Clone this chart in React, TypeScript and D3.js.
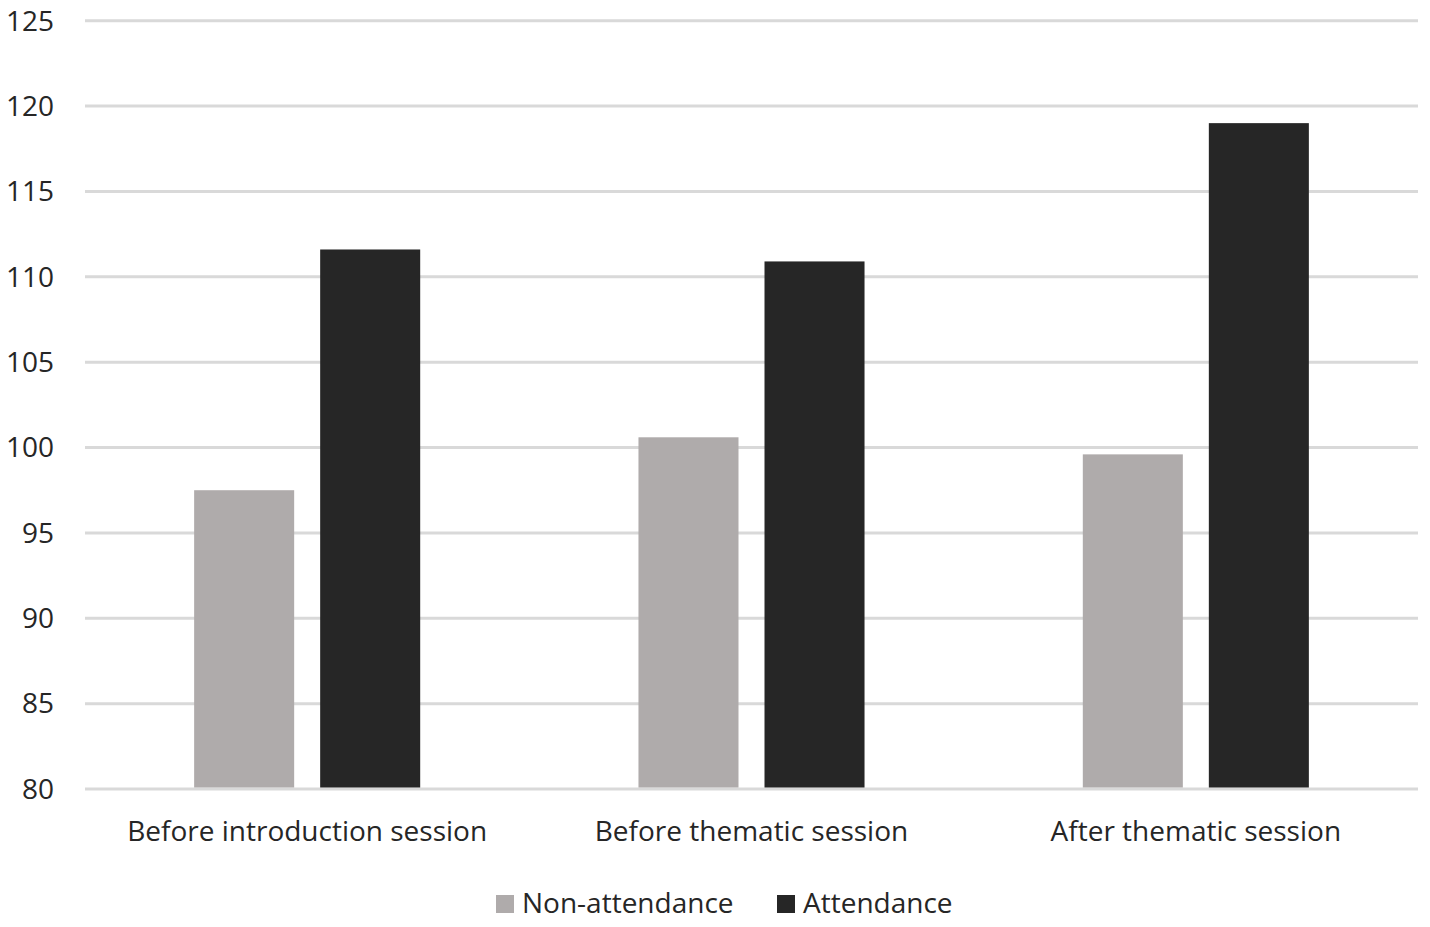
import { useEffect, useRef } from "react";
import * as d3 from "d3";

const categories = [
  "Before introduction session",
  "Before thematic session",
  "After thematic session",
];
const seriesNames = ["Non-attendance", "Attendance"];
const nonAttendance = [97.5, 100.6, 99.6];
const attendance = [111.6, 110.9, 119.0];
const yTicks = [80, 85, 90, 95, 100, 105, 110, 115, 120, 125];

const colors = ["#AFABAB", "#262626"];
const FONT = "'Open Sans', 'Noto Sans', sans-serif";
const FONT_SIZE = "28px";

function renderChart(svgEl: SVGSVGElement) {
  const svg = d3.select(svgEl);
  svg.selectAll("*").remove();

  const width = 1430;
  const height = 927;
  const margin = { top: 20.7, right: 12, bottom: 138, left: 85 };
  const chartWidth = width - margin.left - margin.right;
  const chartHeight = height - margin.top - margin.bottom;

  const g = svg
    .append("g")
    .attr("transform", `translate(${margin.left},${margin.top})`);

  const x0 = d3
    .scaleBand<string>()
    .domain(categories)
    .range([0, chartWidth])
    .paddingInner(0)
    .paddingOuter(0);

  const x1 = d3
    .scaleBand<string>()
    .domain(seriesNames)
    .range([0, x0.bandwidth()])
    .paddingInner(0.2063)
    .paddingOuter(0.866);

  const y = d3.scaleLinear().domain([80, 125]).range([chartHeight, 0]);

  // Grid lines
  g.append("g")
    .selectAll("line")
    .data(yTicks)
    .join("line")
    .attr("x1", 0)
    .attr("x2", chartWidth)
    .attr("y1", (d) => y(d))
    .attr("y2", (d) => y(d))
    .attr("stroke", "#D9D9D9")
    .attr("stroke-width", 3);

  // Y tick labels
  g.append("g")
    .selectAll("text")
    .data(yTicks)
    .join("text")
    .attr("x", -31)
    .attr("y", (d) => y(d))
    .attr("dy", "0.35em")
    .attr("text-anchor", "end")
    .attr("fill", "#262626")
    .style("font-family", FONT)
    .style("font-size", FONT_SIZE)
    .text((d) => d);

  // Bars
  const seriesValues = [nonAttendance, attendance];
  const groups = g
    .append("g")
    .selectAll("g")
    .data(categories)
    .join("g")
    .attr("transform", (d) => `translate(${x0(d)},0)`);

  groups
    .selectAll("rect")
    .data((_, i) =>
      seriesNames.map((name, s) => ({ name, s, value: seriesValues[s][i] }))
    )
    .join("rect")
    .attr("x", (d) => x1(d.name) as number)
    .attr("width", x1.bandwidth())
    .attr("y", (d) => y(d.value))
    .attr("height", (d) => y(80) - y(d.value) - 1.5)
    .attr("fill", (d) => colors[d.s]);

  // Category labels
  g.append("g")
    .selectAll("text")
    .data(categories)
    .join("text")
    .attr("x", (d) => (x0(d) as number) + x0.bandwidth() / 2)
    .attr("y", chartHeight + 52)
    .attr("text-anchor", "middle")
    .attr("fill", "#262626")
    .style("font-family", FONT)
    .style("font-size", FONT_SIZE)
    .text((d) => d);

  // Legend
  const legendX = [496, 777];
  const legend = svg.append("g").attr("transform", `translate(0, 895)`);
  seriesNames.forEach((name, i) => {
    legend
      .append("rect")
      .attr("x", legendX[i])
      .attr("y", 0)
      .attr("width", 18)
      .attr("height", 18)
      .attr("fill", colors[i]);
    legend
      .append("text")
      .attr("x", legendX[i] + 26)
      .attr("y", 18)
      .attr("fill", "#262626")
      .style("font-family", FONT)
      .style("font-size", FONT_SIZE)
      .text(name);
  });
}

export default function App() {
  const svgRef = useRef<SVGSVGElement>(null);

  useEffect(() => {
    document.body.style.margin = "0";
    if (svgRef.current) renderChart(svgRef.current);
  }, []);

  return (
    <svg
      ref={svgRef}
      width={1430}
      height={927}
      style={{ display: "block", background: "#fff" }}
    />
  );
}
